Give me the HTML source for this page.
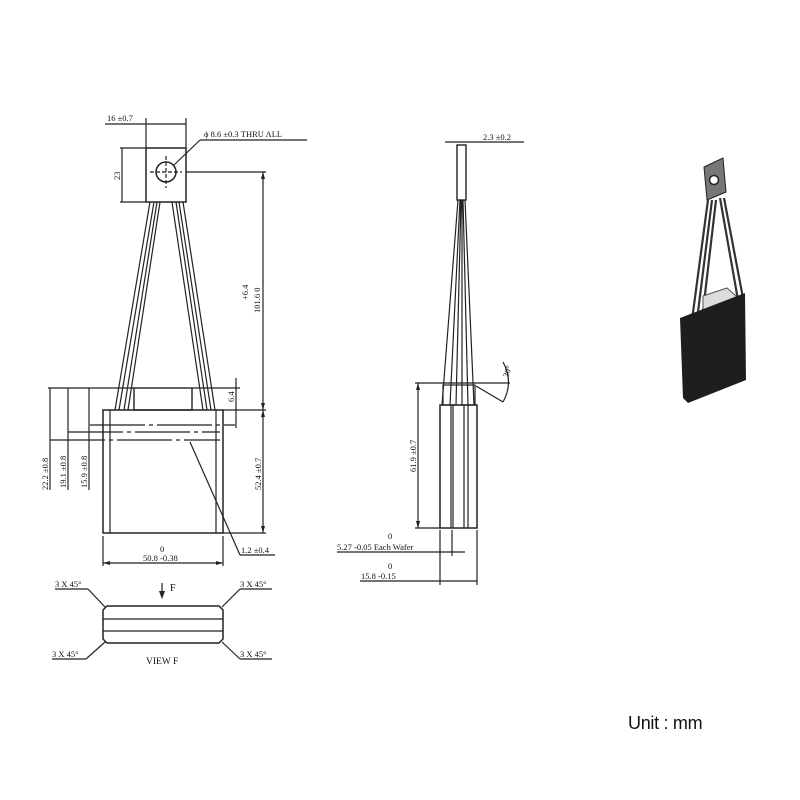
<!DOCTYPE html>
<html><head><meta charset="utf-8"><style>
html,body{margin:0;padding:0;background:#fff;width:800px;height:800px;overflow:hidden}
svg text{font-family:"Liberation Serif",serif;fill:#111}
</style></head><body>
<svg width="800" height="800" viewBox="0 0 800 800" xmlns="http://www.w3.org/2000/svg">
<g stroke="#222" stroke-width="1.2" fill="none">
<rect x="146" y="148" width="40" height="54" stroke-width="1.5"/>
<circle cx="166" cy="172" r="10" stroke-width="1.5"/>
<line x1="150" y1="172" x2="182" y2="172" stroke-dasharray="4,2"/>
<line x1="166" y1="156" x2="166" y2="188" stroke-dasharray="4,2"/>
<line x1="174" y1="165" x2="200" y2="140"/><line x1="200" y1="140" x2="307" y2="140"/>
<line x1="146" y1="124" x2="186" y2="124"/><line x1="146" y1="118" x2="146" y2="148"/><line x1="186" y1="118" x2="186" y2="148"/>
<line x1="105" y1="124" x2="146" y2="124"/>
<line x1="122" y1="148" x2="122" y2="202"/><line x1="120" y1="148" x2="146" y2="148"/><line x1="120" y1="202" x2="146" y2="202"/>
<path d="M150 202 L115 410 M154 202 L119 410 M157 202 L124 410 M160 202 L128 410" />
<path d="M172 202 L203 410 M176 202 L207 410 M179 202 L211 410 M183 202 L215 410" />
<rect x="134" y="388" width="58" height="22" stroke-width="1.4"/>
<rect x="103" y="410" width="120" height="123" stroke-width="1.5"/>
<line x1="110" y1="410" x2="110" y2="533"/><line x1="216" y1="410" x2="216" y2="533"/>
<g stroke-dasharray="55,4,4,4">
<line x1="90" y1="425" x2="235" y2="425"/><line x1="68" y1="432" x2="220" y2="432"/><line x1="50" y1="440" x2="220" y2="440"/></g>
<line x1="48" y1="388" x2="134" y2="388"/>
<line x1="50" y1="388" x2="50" y2="490"/><line x1="68" y1="388" x2="68" y2="490"/><line x1="89" y1="388" x2="89" y2="490"/>
<line x1="236" y1="378" x2="236" y2="428"/><line x1="192" y1="388" x2="240" y2="388"/>
<line x1="186" y1="172" x2="266" y2="172"/><line x1="223" y1="410" x2="266" y2="410"/><line x1="223" y1="533" x2="266" y2="533"/>
<line x1="263" y1="172" x2="263" y2="533"/>
<line x1="103" y1="536" x2="103" y2="566"/><line x1="223" y1="536" x2="223" y2="566"/><line x1="103" y1="563" x2="223" y2="563"/>
<line x1="190" y1="442" x2="240" y2="555"/><line x1="240" y1="555" x2="275" y2="555"/>
<path d="M107 606 L219 606 L223 610 L223 639 L219 643 L107 643 L103 639 L103 610 Z" stroke-width="1.5"/>
<line x1="103" y1="619" x2="223" y2="619"/><line x1="103" y1="631" x2="223" y2="631"/>
<line x1="162" y1="583" x2="162" y2="598"/>
<line x1="55" y1="589" x2="88" y2="589"/><line x1="88" y1="589" x2="105" y2="607"/>
<line x1="240" y1="589" x2="272" y2="589"/><line x1="240" y1="589" x2="222" y2="607"/>
<line x1="52" y1="659" x2="86" y2="659"/><line x1="86" y1="659" x2="105" y2="642"/>
<line x1="240" y1="659" x2="272" y2="659"/><line x1="240" y1="659" x2="222" y2="642"/>
<rect x="457" y="145" width="9" height="55" stroke-width="1.4"/>
<path d="M458 200 L442 405 M460 200 L450 405 M461 200 L456 405 M462 200 L462 405 M463 200 L468 405 M465 200 L474 405"/>
<rect x="443" y="385" width="32" height="20"/>
<rect x="440" y="405" width="37" height="123" stroke-width="1.5"/>
<line x1="451" y1="405" x2="451" y2="528"/><line x1="453" y1="405" x2="453" y2="528"/>
<line x1="464" y1="405" x2="464" y2="528"/><line x1="468" y1="405" x2="468" y2="528"/>
<line x1="415" y1="383" x2="510" y2="383"/><line x1="418" y1="383" x2="418" y2="528"/><line x1="415" y1="528" x2="440" y2="528"/>
<line x1="476" y1="386" x2="503" y2="402"/><path d="M503 362 Q514 382 503 402"/>
<line x1="445" y1="142" x2="524" y2="142"/>
<line x1="440" y1="530" x2="440" y2="585"/><line x1="477" y1="530" x2="477" y2="585"/><line x1="452" y1="530" x2="452" y2="556"/>
<line x1="337" y1="552" x2="465" y2="552"/><line x1="360" y1="581" x2="477" y2="581"/>
</g>
<g fill="#222">
<path d="M162 599 L159 591 L165 591 Z"/>
<path d="M263 172 l-2 7 h4z M263 410 l-2 -7 h4z M263 410 l-2 7 h4z M263 533 l-2 -7 h4z"/>
<path d="M103 563 l7 -2 v4z M223 563 l-7 -2 v4z M418 383 l-2 7 h4z M418 528 l-2 -7 h4z"/>
</g>
<g font-size="8.5">
<text x="107" y="121">16 ±0.7</text>
<text x="204" y="137">ϕ 8.6 ±0.3 THRU ALL</text>
<text transform="translate(120,180) rotate(-90)">23</text>
<text transform="translate(248,300) rotate(-90)">+6.4</text>
<text transform="translate(260,313) rotate(-90)">101.6  0</text>
<text transform="translate(234,402) rotate(-90)">6.4</text>
<text transform="translate(261,490) rotate(-90)">52.4 ±0.7</text>
<text transform="translate(48,490) rotate(-90)">22.2 ±0.8</text>
<text transform="translate(66,488) rotate(-90)">19.1 ±0.8</text>
<text transform="translate(87,488) rotate(-90)">15.9 ±0.8</text>
<text x="160" y="552">0</text>
<text x="143" y="561">50.8 -0.38</text>
<text x="241" y="553">1.2 ±0.4</text>
<text x="170" y="591" font-size="10">F</text>
<text x="55" y="587">3 X 45°</text>
<text x="240" y="587">3 X 45°</text>
<text x="52" y="657">3 X 45°</text>
<text x="240" y="657">3 X 45°</text>
<text x="146" y="664" font-size="9.5">VIEW F</text>
<text x="483" y="140">2.3 ±0.2</text>
<text transform="translate(416,472) rotate(-90)">61.9 ±0.7</text>
<text transform="translate(508,378) rotate(-70)">30°</text>
<text x="388" y="539">0</text>
<text x="337" y="550">5.27 -0.05 Each Wafer</text>
<text x="388" y="569">0</text>
<text x="361" y="579">15.8 -0.15</text>
</g>
<g>
<path d="M708 200 L692 320 M712 200 L697 320 M716 200 L702 320" stroke="#333" stroke-width="2.2" fill="none"/>
<path d="M720 198 L738 300 M724 198 L743 298" stroke="#333" stroke-width="2.2" fill="none"/>
<polygon points="704,167 723,158 726,192 707,200" fill="#777" stroke="#222"/>
<circle cx="714" cy="180" r="4.5" fill="#fff" stroke="#222" stroke-width="1.5"/>
<polygon points="703,296 727,288 736,296 736,312 712,320 703,313" fill="#ddd" stroke="#555"/>
<polygon points="680,318 745,293 746,380 688,403 683,398" fill="#1e1e1e"/>
</g>
<text x="628" y="729" font-size="18" style="font-family:'Liberation Sans',sans-serif;letter-spacing:-0.3px" fill="#2a2228">Unit : mm</text>
</svg>
</body></html>
